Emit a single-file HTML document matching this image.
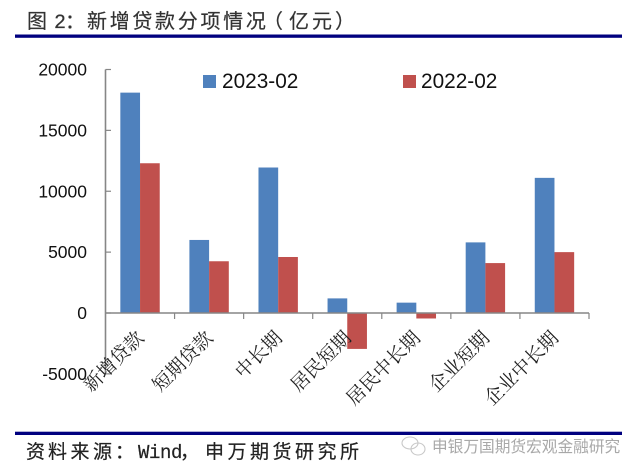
<!DOCTYPE html>
<html>
<head>
<meta charset="utf-8">
<style>
html,body{margin:0;padding:0;background:#fff;}
body{width:640px;height:474px;overflow:hidden;position:relative;}
svg{display:block;position:absolute;left:0;top:0;}
text{font-family:"Liberation Sans","Noto Sans CJK SC",sans-serif;}
</style>
</head>
<body>
<svg id="chart" width="640" height="474" viewBox="0 0 640 474" xmlns="http://www.w3.org/2000/svg">
  <text x="27 42 54 65 87 109.7 132.4 155 177.8 200.5 223.2 245.9 263 289 312 335" y="28" font-size="20" fill="#333" stroke="#333" stroke-width="0.2" style="font-family:'Liberation Mono','Noto Sans CJK SC',sans-serif">图 2&#xFF1A;新增贷款分项情况&#xFF08;亿元&#xFF09;</text>
  <rect x="15" y="34.5" width="607" height="3.3" fill="#00007f"/>
  <g id="plot"></g>
  <g>
    <g>
      <rect x="203" y="75" width="13" height="13" fill="#4f81bd"/>
      <text x="222" y="88" font-size="20.8" fill="#111">2023-02</text>
    </g>
    <g>
      <rect x="403" y="75" width="13" height="13" fill="#c0504d"/>
      <text x="421" y="88" font-size="20.8" fill="#111">2022-02</text>
    </g>
  </g>
  <rect x="15" y="431.7" width="607" height="3.3" fill="#00007f"/>
  <text x="26 48 70.5 93 115 138 149 160 171 180 205 227.5 250 272.5 295 317.5 340" y="458" font-size="19" fill="#222" stroke="#222" stroke-width="0.2" style="font-family:'Liberation Mono','Noto Sans CJK SC',monospace">资料来源&#xFF1A;Wind&#xFF0C;申万期货研究所</text>
  <g fill="none" stroke="#c8c8c8" stroke-width="1.1">
    <ellipse cx="410" cy="443" rx="8" ry="6"/>
    <ellipse cx="418" cy="449" rx="7" ry="6"/>
  </g>
  <text x="432" y="452" font-size="15.7" fill="#a8a8a8">申银万国期货宏观金融研究</text>
</svg>
<script>
var categories = ['新增贷款', '短期贷款', '中长期', '居民短期', '居民中长期', '企业短期', '企业中长期'];
var series2023 = [18100, 6000, 11950, 1200, 850, 5800, 11100];
var series2022 = [12300, 4250, 4600, -2950, -450, 4100, 5000];
var tickValues = [20000, 15000, 10000, 5000, 0, -5000];

var svgNS = 'http://www.w3.org/2000/svg';
var plot = document.getElementById('plot');
var axisLeft = 105.5, axisRight = 589;
var yTop = 69.5, yZero = 313;
var barWidth = 19.7;

function yScale(v) { return yZero - (v * (yZero - yTop)) / 20000; }
function xBand(i) { return axisLeft + (i * (axisRight - axisLeft)) / categories.length; }
function bandWidth() { return (axisRight - axisLeft) / categories.length; }
function make(tag, attrs, parent) {
  var el = document.createElementNS(svgNS, tag);
  for (var k in attrs) { el.setAttribute(k, attrs[k]); }
  parent.appendChild(el);
  return el;
}
function drawBar(v, x, color, parent) {
  var y0 = yScale(0), y1 = yScale(v);
  return make('rect', { x: x, y: Math.min(y0, y1), width: barWidth, height: Math.abs(y1 - y0), fill: color }, parent);
}

categories.forEach(function (cat, i) {
  var cx = xBand(i) + bandWidth() / 2;
  var a = drawBar(series2023[i], cx - barWidth, '#4f81bd', plot);
  
  
  var b = drawBar(series2022[i], cx, '#c0504d', plot);
  
  
});

var yAxis = make('line', { x1: axisLeft, x2: axisLeft, y1: yScale(20000), y2: yScale(-5000), stroke: '#868686', 'stroke-width': 1.6 }, plot);



var xAxis = make('line', { x1: axisLeft, x2: axisRight, y1: yScale(0), y2: yScale(0), stroke: '#868686', 'stroke-width': 1.6 }, plot);



tickValues.forEach(function (v) {
  var y = yScale(v);
  var t = make('line', { x1: axisLeft, x2: axisLeft + 5.5, y1: y, y2: y, stroke: '#868686', 'stroke-width': 1.2 }, plot);
  
  
  var l = make('text', { x: 87, y: y + 6, 'text-anchor': 'end', 'font-size': 17.5, fill: '#111' }, plot);
  l.textContent = String(v);
  
  
});

categories.forEach(function (cat, i) {
  var edge = xBand(i + 1);
  var t = make('line', { x1: edge, x2: edge, y1: yScale(0), y2: yScale(0) + 6, stroke: '#868686', 'stroke-width': 1.2 }, plot);
  
  
  var cx = xBand(i) + bandWidth() / 2;
  var lx = cx + 5, ly = 339;
  var l = make('text', { x: lx, y: ly, 'text-anchor': 'end', 'font-size': 19, fill: '#222', transform: 'rotate(-45 ' + lx + ' ' + ly + ')' }, plot);
  l.style.fontFamily = '"Liberation Serif","Noto Serif CJK SC",serif';
  l.textContent = cat;
  
  
});
</script>
</body>
</html>
